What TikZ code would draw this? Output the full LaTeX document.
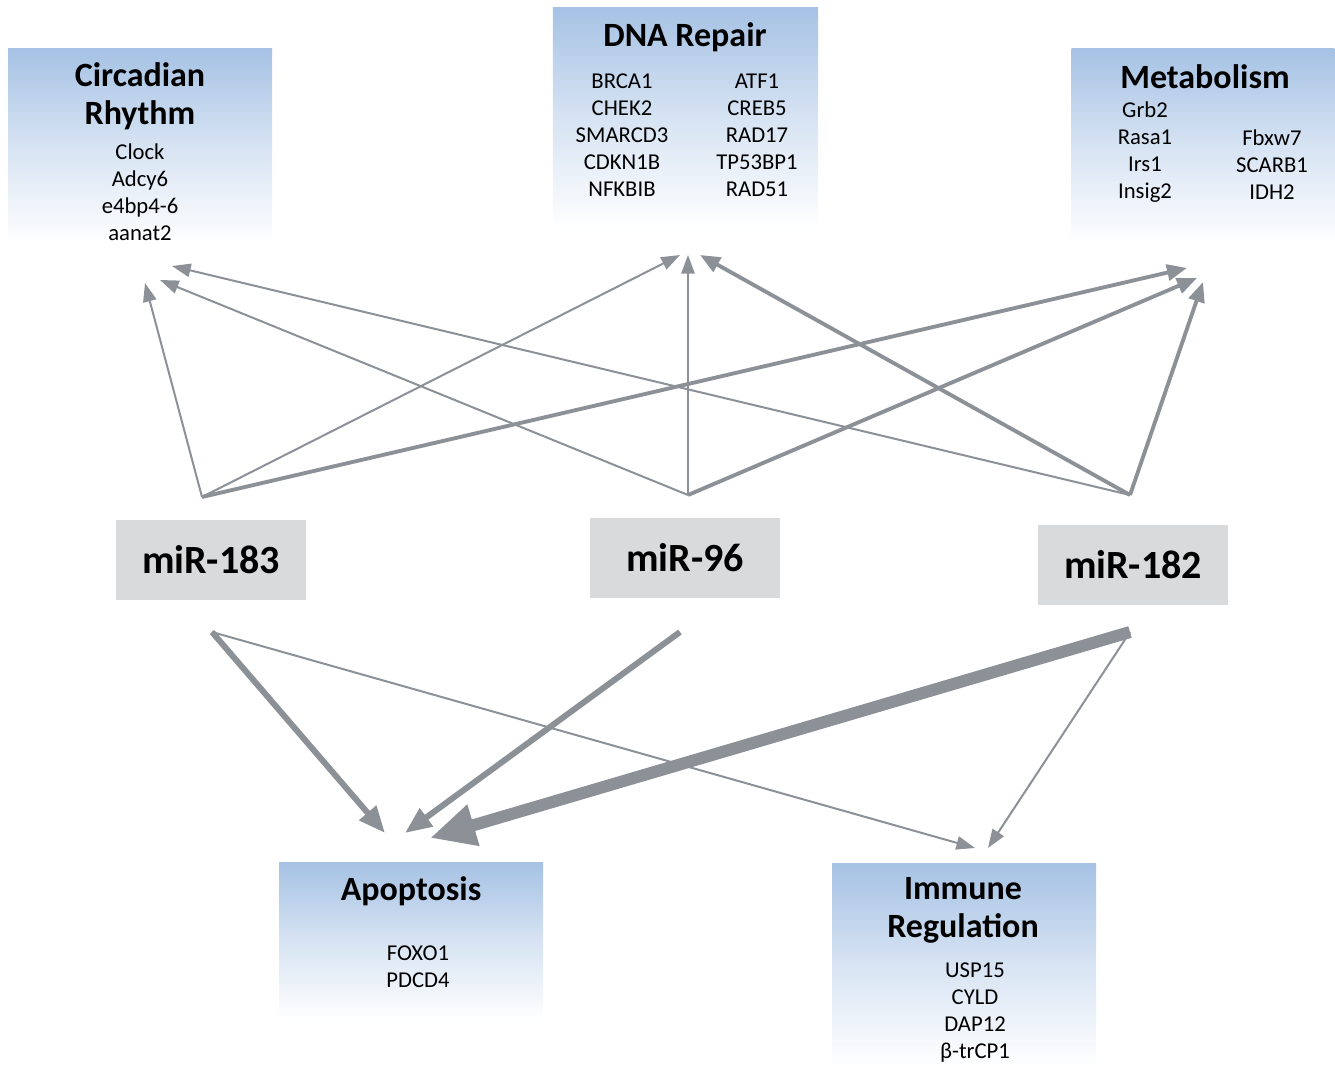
\documentclass[tikz,border=0pt]{standalone}
\usepackage{fontspec}
\setmainfont{Carlito}
\usepackage{tikz}
\usetikzlibrary{arrows.meta}
\definecolor{boxblue}{RGB}{166,194,228}
\definecolor{mirgrey}{RGB}{217,218,220}
\definecolor{linegrey}{RGB}{140,145,152}
\tikzstyle{catbox} = [rectangle, top color=boxblue, bottom color=white, middle color=boxblue!45, inner sep=0pt]
\tikzstyle{mirbox} = [rectangle, fill=mirgrey, minimum width=142.5pt, minimum height=60pt, font=\fontsize{30}{34}\selectfont\bfseries]
\tikzstyle{title} = [align=center, inner sep=0pt, font=\fontsize{25.5}{28.5}\selectfont\bfseries]
\tikzstyle{genes} = [align=center, inner sep=0pt, font=\fontsize{17}{20.25}\selectfont]
\tikzstyle{thinarrow} = [draw=linegrey, line width=1.5pt, -{Triangle[length=14pt,width=10pt]}]
\tikzstyle{medarrow} = [draw=linegrey, line width=2.9pt, -{Triangle[length=15pt,width=12pt]}]
\tikzstyle{thickarrow} = [draw=linegrey, line width=4.5pt, -{Triangle[length=20pt,width=16pt]}]
\tikzstyle{hugearrow} = [draw=linegrey, line width=9pt, -{Triangle[length=34pt,width=30pt]}]

\begin{document}
\begin{tikzpicture}[x=0.75pt, y=-0.75pt]
            \useasboundingbox (0,0) rectangle (1335,1066);
            % category boxes
            \node (circ) [catbox, minimum width=198pt, minimum height=147pt] at (140,147) {};
            \node (dna) [catbox, minimum width=199pt, minimum height=166.5pt] at (685.5,119) {};
            \node (met) [catbox, minimum width=197pt, minimum height=147pt] at (1203,147) {};
            \node (apop) [catbox, minimum width=198pt, minimum height=118pt] at (411,941.5) {};
            \node (imm) [catbox, minimum width=198pt, minimum height=152pt] at (964,964.5) {};

            \node (circtitle) [title] at (140,96) {Circadian\\Rhythm};
            \node (circgenes) [genes] at (140,192) {Clock\\Adcy6\\e4bp4-6\\aanat2};
            \node (dnatitle) [title] at (685,37) {DNA Repair};
            \node (dnaleft) [genes] at (622,135) {BRCA1\\CHEK2\\SMARCD3\\CDKN1B\\NFKBIB};
            \node (dnaright) [genes] at (757,135) {ATF1\\CREB5\\RAD17\\TP53BP1\\RAD51};
            \node (mettitle) [title] at (1205,77) {Metabolism};
            \node (metleft) [genes] at (1145,152) {Grb2\\Rasa1\\Irs1\\Insig2};
            \node (metright) [genes] at (1272,165) {Fbxw7\\SCARB1\\IDH2};
            \node (apoptitle) [title] at (411,891) {Apoptosis};
            \node (apopgenes) [genes] at (418,967) {FOXO1\\PDCD4};
            \node (immtitle) [title] at (963,910) {Immune\\Regulation};
            \node (immgenes) [genes] at (975,1013) {USP15\\CYLD\\DAP12\\β-trCP1};

            % miRNAs
            \node (mir183) [mirbox] at (211,560) {miR-183};
            \node (mir96) [mirbox] at (685,558) {miR-96};
            \node (mir182) [mirbox] at (1133,565) {miR-182};

            \coordinate (up183) at (202,497);
            \coordinate (up96) at (688,495);
            \coordinate (up182) at (1130,495);
            \coordinate (dn183) at (212,632);
            \coordinate (dn96) at (680,632);
            \coordinate (dn182) at (1130,632);

            \coordinate (circa) at (145,283);
            \coordinate (circb) at (160,280);
            \coordinate (circc) at (172,266);
            \coordinate (dnaa) at (680,255);
            \coordinate (dnab) at (688,255);
            \coordinate (dnac) at (700,255);
            \coordinate (meta) at (1187,268);
            \coordinate (metb) at (1197,278);
            \coordinate (metc) at (1203,282);
            \coordinate (apopa) at (385,833);
            \coordinate (apopb) at (405,833);
            \coordinate (apopc) at (430,838);
            \coordinate (imma) at (975,848);
            \coordinate (immb) at (988,848);

            \draw [thinarrow] (up183) -- (circa);
            \draw [thinarrow] (up183) -- (dnaa);
            \draw [medarrow] (up183) -- (meta);
            \draw [thinarrow] (up96) -- (circb);
            \draw [thinarrow] (up96) -- (dnab);
            \draw [medarrow] (up96) -- (metb);
            \draw [thinarrow] (up182) -- (circc);
            \draw [medarrow] (up182) -- (dnac);
            \draw [medarrow] (up182) -- (metc);

            \draw [thickarrow] (dn183) -- (apopa);
            \draw [thinarrow] (dn183) -- (imma);
            \draw [thickarrow] (dn96) -- (apopb);
            \draw [hugearrow] (dn182) -- (apopc);
            \draw [thinarrow] (dn182) -- (immb);
        \end{tikzpicture}
\end{document}
